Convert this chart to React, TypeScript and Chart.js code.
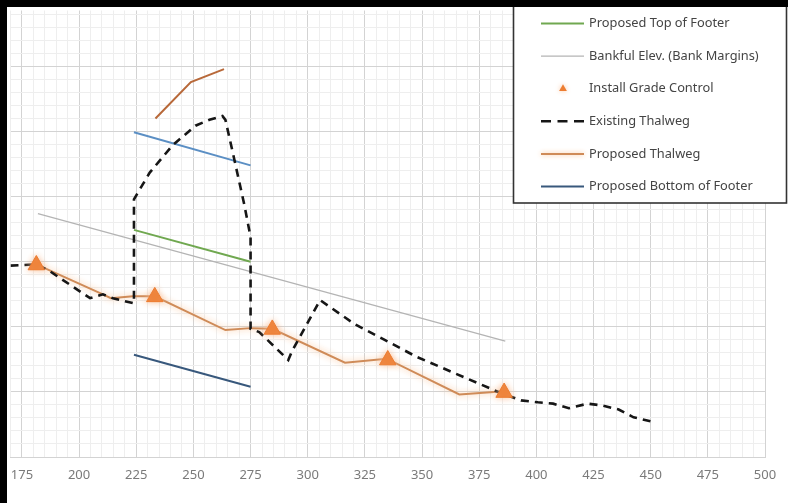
import React, { useEffect, useRef } from 'react';
import { Chart, registerables } from 'chart.js';

Chart.register(...registerables);

// ---------- data (station in ft, elevation relative) ----------
const xTickLabels = [175, 200, 225, 250, 275, 300, 325, 350, 375, 400, 425, 450, 475, 500];
const xMin = 170;
const xMax = 500;
const yMin = 0;
const yMax = 6.86;

const existingThalwegX = [170, 181.3, 187.4, 204.8, 210.4, 214.8, 224, 224, 230.9, 240.9, 250.9, 257.0, 262.7, 264.0, 267.9, 272.3, 275, 275, 278.8, 291.5, 293.2, 305.4, 320.6, 347.6, 384.6, 393.3, 400.7, 407.3, 414.2, 422.5, 429.0, 436.0, 442.5, 449.9];
const existingThalwegY = [2.94, 2.96, 2.85, 2.44, 2.5, 2.44, 2.36, 3.96, 4.37, 4.79, 5.09, 5.18, 5.24, 5.18, 4.57, 3.87, 3.38, 1.97, 1.92, 1.49, 1.63, 2.41, 2.04, 1.54, 0.98, 0.87, 0.84, 0.82, 0.75, 0.82, 0.79, 0.73, 0.61, 0.55];

const proposedThalwegX = [181.3, 210.4, 213.9, 223.5, 233.1, 264.0, 274.9, 284.5, 316.3, 334.5, 366.3, 385.9];
const proposedThalwegY = [2.96, 2.5, 2.44, 2.47, 2.47, 1.95, 1.98, 1.97, 1.45, 1.51, 0.96, 1.01];

const gradeControlX = [181.3, 233.1, 284.5, 335.0, 385.9];
const gradeControlY = [2.95, 2.46, 1.96, 1.49, 0.99];

const topFooterX = [224, 275];
const topFooterY = [3.49, 3.0];

const bottomFooterX = [224, 275];
const bottomFooterY = [1.57, 1.08];

const bankfulX = [182, 386.4];
const bankfulY = [3.74, 1.78];

const upperFooterX = [224, 275];
const upperFooterY = [4.99, 4.48];

const upperThalwegX = [233.4, 248.9, 263.4];
const upperThalwegY = [5.2, 5.76, 5.96];

const legendOrder = [
  'Proposed Top of Footer',
  'Bankful Elev. (Bank Margins)',
  'Install Grade Control',
  'Existing Thalweg',
  'Proposed Thalweg',
  'Proposed Bottom of Footer',
];

function pts(xs: number[], ys: number[]) {
  return xs.map((x, i) => ({ x, y: ys[i] }));
}

const CW = 788;
const CH = 503;
const EDGE = 7;

const bgPlugin = {
  id: 'bg',
  beforeDraw(chart: any) {
    const ctx = chart.ctx;
    ctx.save();
    ctx.fillStyle = '#000000';
    ctx.fillRect(0, 0, chart.width, chart.height);
    ctx.fillStyle = '#ffffff';
    ctx.fillRect(EDGE, EDGE, chart.width - EDGE, chart.height - EDGE);
    ctx.restore();
  },
};

const glowPlugin = {
  id: 'glow',
  beforeDatasetDraw(chart: any, args: any) {
    const ds = chart.data.datasets[args.index];
    if (ds.glow) {
      chart.ctx.save();
      chart.ctx.shadowColor = ds.glow;
      chart.ctx.shadowBlur = 6;
    }
  },
  afterDatasetDraw(chart: any, args: any) {
    const ds = chart.data.datasets[args.index];
    if (ds.glow) chart.ctx.restore();
  },
};

const boxLegendPlugin = {
  id: 'boxLegend',
  afterDraw(chart: any) {
    const ctx = chart.ctx;
    const left = 513;
    const right = 786;
    const top = 2;
    const bottom = 203;
    ctx.save();
    ctx.fillStyle = '#ffffff';
    ctx.fillRect(left, top, right - left, bottom - top);
    ctx.strokeStyle = '#333333';
    ctx.lineWidth = 1.6;
    ctx.strokeRect(left + 0.5, top, right - left, bottom - top);
    // restore the black top edge over the box
    ctx.fillStyle = '#000000';
    ctx.fillRect(0, 0, chart.width, EDGE);
    ctx.font = '12.8px "Noto Sans"';
    ctx.textBaseline = 'middle';
    ctx.textAlign = 'left';
    legendOrder.forEach((label, i) => {
      const ds = chart.data.datasets.find((d: any) => d.label === label);
      if (!ds) return;
      const y = 23.5 + i * 32.6;
      ctx.save();
      if (ds.glow) {
        ctx.shadowColor = ds.glow;
        ctx.shadowBlur = 5;
      }
      if (ds.showLine === false) {
        const r = 4.5;
        const cx = 563;
        ctx.fillStyle = ds.pointBackgroundColor;
        ctx.beginPath();
        ctx.moveTo(cx, y - r);
        ctx.lineTo(cx + r * 0.866, y + r / 2);
        ctx.lineTo(cx - r * 0.866, y + r / 2);
        ctx.closePath();
        ctx.fill();
      } else {
        ctx.strokeStyle = ds.borderColor;
        ctx.lineWidth = ds.borderWidth;
        ctx.setLineDash(ds.borderDash ? [10, 6.5] : []);
        ctx.beginPath();
        ctx.moveTo(541, y);
        ctx.lineTo(584, y);
        ctx.stroke();
      }
      ctx.restore();
      ctx.fillStyle = '#444444';
      ctx.fillText(label, 589, y);
    });
    ctx.restore();
  },
};

export default function App() {
  const ref = useRef<HTMLCanvasElement | null>(null);

  useEffect(() => {
    document.body.style.margin = '0';
    document.body.style.background = '#000';
    if (!ref.current) return;

    const lineBase = { pointRadius: 0, pointHoverRadius: 0, fill: false, tension: 0 };

    const chart = new Chart(ref.current, {
      type: 'line',
      data: {
        datasets: [
          {
            label: 'Install Grade Control',
            data: pts(gradeControlX, gradeControlY),
            showLine: false,
            pointStyle: 'triangle',
            pointRadius: 9.5,
            pointBackgroundColor: '#ed7d31',
            pointBorderColor: '#ed7d31',
            pointBorderWidth: 1,
            borderColor: '#ed7d31',
            glow: 'rgba(248,190,150,0.9)',
            order: 0,
          } as any,
          {
            ...lineBase,
            label: 'Existing Thalweg',
            data: pts(existingThalwegX, existingThalwegY),
            borderColor: '#161616',
            borderWidth: 2.6,
            borderDash: [8, 6],
            order: 1,
          },
          {
            ...lineBase,
            label: 'Proposed Thalweg',
            data: pts(proposedThalwegX, proposedThalwegY),
            borderColor: '#cf8b58',
            borderWidth: 2,
            glow: 'rgba(250,190,140,0.95)',
            order: 2,
          } as any,
          {
            ...lineBase,
            label: 'Proposed Top of Footer',
            data: pts(topFooterX, topFooterY),
            borderColor: '#70a850',
            borderWidth: 2,
            order: 3,
          },
          {
            ...lineBase,
            label: 'Bankful Elev. (Bank Margins)',
            data: pts(bankfulX, bankfulY),
            borderColor: '#b4b4b4',
            borderWidth: 1.2,
            order: 4,
          },
          {
            ...lineBase,
            label: 'Proposed Bottom of Footer',
            data: pts(bottomFooterX, bottomFooterY),
            borderColor: '#38587c',
            borderWidth: 2,
            order: 5,
          },
          {
            ...lineBase,
            label: 'Upper Footer',
            data: pts(upperFooterX, upperFooterY),
            borderColor: '#5b8fc4',
            borderWidth: 2,
            order: 6,
          },
          {
            ...lineBase,
            label: 'Upper Thalweg',
            data: pts(upperThalwegX, upperThalwegY),
            borderColor: '#b8693a',
            borderWidth: 2,
            order: 7,
          },
        ],
      },
      options: {
        animation: false,
        responsive: false,
        devicePixelRatio: 1,
        layout: { padding: { left: EDGE, right: 23, top: EDGE, bottom: 0 } },
        plugins: {
          legend: { display: false },
          tooltip: { enabled: false },
          title: { display: false },
        },
        scales: {
          x: {
            type: 'linear',
            min: xMin,
            max: xMax,
            afterBuildTicks: (s: any) => {
              const t: any[] = [];
              for (let v = xMin; v <= xMax; v += 5) t.push({ value: v });
              s.ticks = t;
            },
            afterFit: (s: any) => {
              s.height = 46;
            },
            ticks: {
              autoSkip: false,
              maxRotation: 0,
              padding: 0,
              color: '#7a7a7a',
              font: { family: 'Noto Sans', size: 13 },
              callback: (v: any) => (xTickLabels.includes(Number(v)) ? String(v) : ''),
            },
            grid: {
              drawTicks: true,
              tickLength: 10,
              tickColor: 'rgba(0,0,0,0)',
              color: (c: any) => (c.tick && c.tick.value % 25 === 0 ? '#d3d3d3' : '#eeeeee'),
              lineWidth: 1,
            },
            border: { display: true, color: '#d3d3d3' },
          },
          y: {
            type: 'linear',
            min: yMin,
            max: yMax,
            afterBuildTicks: (s: any) => {
              const t: any[] = [];
              for (let i = 0; i * 0.2 <= yMax; i++) t.push({ value: i * 0.2 });
              s.ticks = t;
            },
            afterFit: (s: any) => {
              s.width = 0;
            },
            ticks: { display: false, padding: 0 },
            grid: {
              drawTicks: false,
              color: (c: any) =>
                c.tick && Math.abs(c.tick.value - Math.round(c.tick.value)) < 1e-6 ? '#d3d3d3' : '#eeeeee',
              lineWidth: 1,
            },
            border: { display: false },
          },
        },
      } as any,
      plugins: [bgPlugin, glowPlugin, boxLegendPlugin],
    });

    return () => chart.destroy();
  }, []);

  return (
    <div style={{ position: 'relative', width: CW, height: CH, background: '#000', overflow: 'hidden' }}>
      <canvas
        ref={ref}
        width={CW}
        height={CH}
        style={{ position: 'absolute', left: 0, top: 0, width: CW, height: CH }}
      />
    </div>
  );
}
